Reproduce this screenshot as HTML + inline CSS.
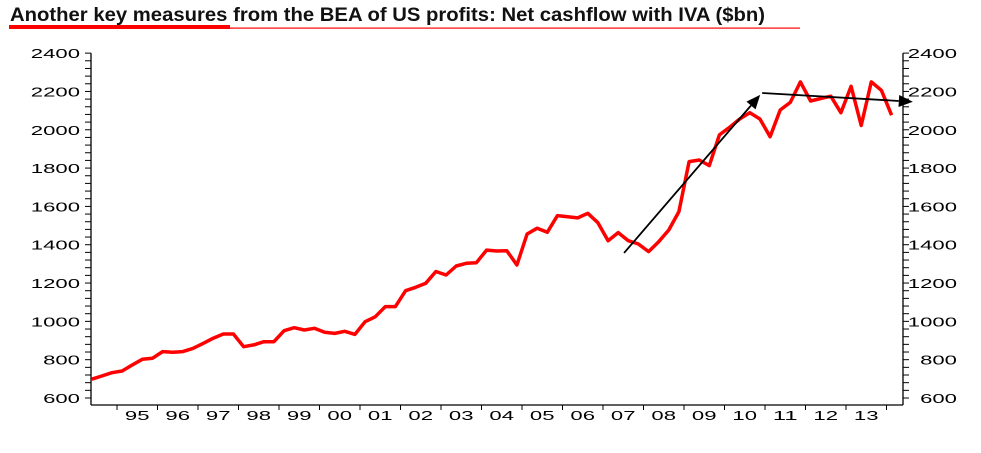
<!DOCTYPE html>
<html><head><meta charset="utf-8"><style>
body{margin:0;background:#fff;width:981px;height:448px;overflow:hidden}
svg text{font-family:"Liberation Sans",Arial,sans-serif}
</style></head><body>
<svg id="chart" width="981" height="448" xmlns="http://www.w3.org/2000/svg">
<text x="10" y="21" font-size="19" font-weight="bold" fill="#111" textLength="755" lengthAdjust="spacingAndGlyphs">Another key measures from the  BEA of US profits: Net cashflow with IVA ($bn)</text>
<rect x="9" y="25" width="221" height="4" fill="#f00"/>
<rect x="230" y="27.5" width="570" height="1.2" fill="#f00"/>
<g id="axes"></g>
<g id="series"></g>
<g id="arrows"></g>
</svg>
<script>
const yTicks=[600,800,1000,1200,1400,1600,1800,2000,2200,2400];
const yearLabels=["95","96","97","98","99","00","01","02","03","04","05","06","07","08","09","10","11","12","13"];
const startTime=1994.375;
const values=[698,715,732,741,772,802,807,842,839,842,859,885,912,934,934,868,877,894,894,951,967,955,964,943,937,948,932,998,
1024,1077,1077,1160,1178,1199,1260,1242,1289,1303,1306,1372,1367,1369,1294,1456,1486,1465,1552,1546,1540,1564,1515,1421,1463,1421,
1404,1364,1416,1477,1573,1834,1842,1813,1973,2013,2056,2089,2056,1964,2103,2143,2250,2150,2163,2175,2089,2227,2022,2250,2206,2076];
const arrowUp=[[2007.52,1357],[2010.88,2182]];
const arrowFlat=[[2010.93,2192],[2014.65,2146]];

const NS="http://www.w3.org/2000/svg";
const X0=91,X1=903,YB=405,DIG=12.3;
function xs(t){return 117+(t-1995)*40.5;}
function ys(v){return 398-(v-600)*0.1916;}
function mk(tag,attrs,parent){const e=document.createElementNS(NS,tag);for(const k in attrs)e.setAttribute(k,attrs[k]);parent.appendChild(e);return e;}
const axes=document.getElementById('axes');
let e;
e=mk('line',{x1:X0,y1:ys(2400),x2:X0,y2:YB,stroke:'#000','stroke-width':1.3},axes);


e=mk('line',{x1:X1,y1:ys(2400),x2:X1,y2:YB,stroke:'#000','stroke-width':1.3},axes);


e=mk('line',{x1:X0,y1:YB,x2:X1,y2:YB,stroke:'#000','stroke-width':1.3},axes);


for(let v=600;v<=2400;v+=40){
  const y=ys(v);
  e=mk('line',{x1:X0-6,y1:y,x2:X0,y2:y,stroke:'#000','stroke-width':1},axes);
  
  
  e=mk('line',{x1:X1,y1:y,x2:X1+6,y2:y,stroke:'#000','stroke-width':1},axes);
  
  
}
yTicks.forEach(v=>{
  const y=ys(v)+5;
  const s=String(v),w=s.length*DIG;
  e=mk('text',{x:80-w,y:y,'font-size':13,textLength:w,lengthAdjust:'spacingAndGlyphs'},axes);
  e.textContent=s;
  
  
  e=mk('text',{x:957-w,y:y,'font-size':13,textLength:w,lengthAdjust:'spacingAndGlyphs'},axes);
  e.textContent=s;
  
  
});
for(let yr=1995;yr<=2014;yr++){
  const x=xs(yr);
  e=mk('line',{x1:x,y1:YB,x2:x,y2:YB+5,stroke:'#000','stroke-width':1},axes);
  
  
}
yearLabels.forEach((l,i)=>{
  const w=l.length*DIG;
  e=mk('text',{x:xs(1995+i+0.5)-w/2,y:420,'font-size':13,textLength:w,lengthAdjust:'spacingAndGlyphs'},axes);
  e.textContent=l;
  
  
});
const pts=values.map((v,i)=>xs(startTime+0.25*i).toFixed(1)+','+ys(v).toFixed(1)).join(' ');
e=mk('polyline',{points:pts,fill:'none',stroke:'#f00','stroke-width':3.5,'stroke-linejoin':'round'},document.getElementById('series'));


const ag=document.getElementById('arrows');
function arrow(a,name){
  const x1=xs(a[0][0]),y1=ys(a[0][1]),x2=xs(a[1][0]),y2=ys(a[1][1]);
  const ang=Math.atan2(y2-y1,x2-x1),L=14,W=6;
  const bx=x2-L*Math.cos(ang),by=y2-L*Math.sin(ang);
  e=mk('line',{x1:x1,y1:y1,x2:bx,y2:by,stroke:'#000','stroke-width':1.8},ag);
  
  
  const p=[[x2,y2],[bx+W*Math.sin(ang),by-W*Math.cos(ang)],[bx-W*Math.sin(ang),by+W*Math.cos(ang)]];
  e=mk('polygon',{points:p.map(q=>q.join(',')).join(' '),fill:'#000'},ag);
  
  
}
arrow(arrowUp,'trend-arrow-up');
arrow(arrowFlat,'trend-arrow-flat');
</script>
</body></html>
